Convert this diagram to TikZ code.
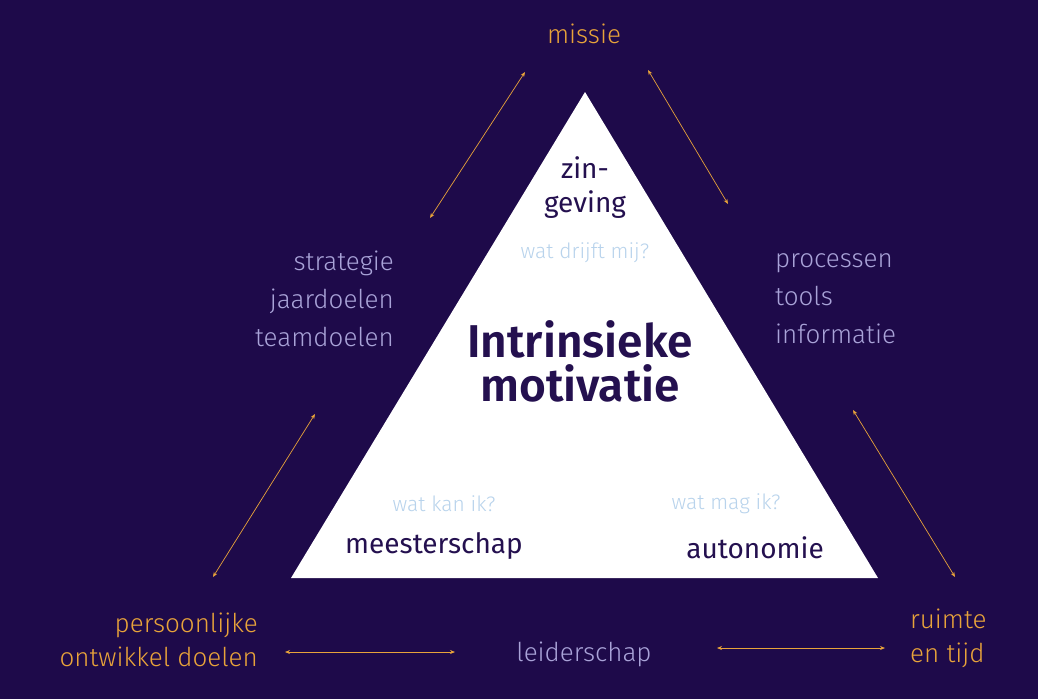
\documentclass[tikz,border=0pt]{standalone}
\usetikzlibrary{arrows.meta}
\usepackage{fontspec}
\setmainfont{Fira Sans}[UprightFont=* Light, BoldFont=* SemiBold]
\newfontfamily\medium{Fira Sans}
\definecolor{bg}{HTML}{1E0A4A}
\definecolor{org}{HTML}{E8A33A}
\definecolor{lav}{HTML}{A9A3D8}
\definecolor{dk}{HTML}{24104F}
\definecolor{lb}{HTML}{B8D3EC}
\begin{document}
\begin{tikzpicture}[x=1pt,y=-1pt,
  arr/.style={org,line width=0.7pt,<->,>={Stealth[length=5pt,width=4pt]}},
  olab/.style={text=org,font=\fontsize{26}{34}\selectfont,inner sep=0pt},
  llab/.style={text=lav,font=\fontsize{26}{38}\selectfont,inner sep=0pt},
  dlab/.style={text=dk,font=\medium\fontsize{28}{34}\selectfont,inner sep=0pt},
  qlab/.style={text=lb,font=\fontsize{21}{26}\selectfont,inner sep=0pt},
  big/.style={text=dk,font=\bfseries\fontsize{46}{44}\selectfont,inner sep=0pt,align=center}]
\fill[bg] (0,0) rectangle (1038,699);
\useasboundingbox (0,0) rectangle (1038,699);
\fill[white] (585,92) -- (291,578) -- (878,578) -- cycle;
\node[olab] (missie) at (584,34) {missie};
\node[llab,align=right,anchor=east] (left) at (394,299) {strategie\\jaardoelen\\teamdoelen};
\node[llab,align=left,anchor=west] (right) at (775,299) {processen\\tools\\informatie};
\node[olab,align=right,anchor=east] (pers) at (258,640) {persoonlijke\\ontwikkel doelen};
\node[olab,align=left,anchor=west] (ruimte) at (910,638) {ruimte\\en tijd};
\node[llab] (leider) at (584,654) {leiderschap};
\node[dlab,align=center] (zin) at (585,188) {zin-\\geving};
\node[qlab] (q1) at (585,253) {wat drijft mij?};
\node[big] (im) at (580,361) {Intrinsieke\\motivatie};
\node[qlab] (q2) at (444,504) {wat kan ik?};
\node[dlab] (mees) at (434,546) {meesterschap};
\node[qlab] (q3) at (726,504) {wat mag ik?};
\node[dlab] (auto) at (755,548) {autonomie};
\coordinate (a1) at (525,72); \coordinate (a2) at (430,218);
\coordinate (b1) at (648,70); \coordinate (b2) at (728,204);
\coordinate (c1) at (315,414); \coordinate (c2) at (213,577);
\coordinate (d1) at (853,410); \coordinate (d2) at (955,577);
\coordinate (e1) at (285,652); \coordinate (e2) at (455,652);
\coordinate (f1) at (717,648); \coordinate (f2) at (885,648);
\draw[arr] (a1) -- (a2);
\draw[arr] (b1) -- (b2);
\draw[arr] (c1) -- (c2);
\draw[arr] (d1) -- (d2);
\draw[arr] (e1) -- (e2);
\draw[arr] (f1) -- (f2);
\end{tikzpicture}
\end{document}
